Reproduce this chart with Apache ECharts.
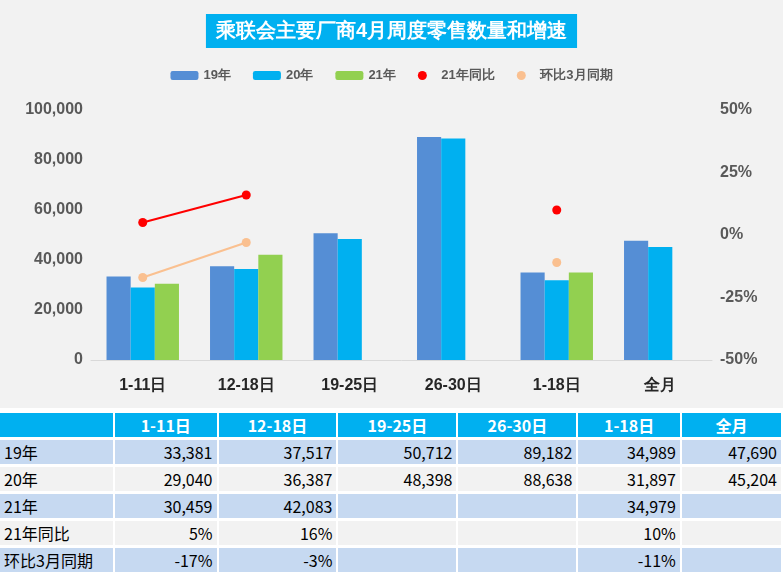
<!DOCTYPE html>
<html>
<head>
<meta charset="utf-8">
<script src="https://cdn.jsdelivr.net/npm/echarts@6/dist/echarts.min.js"></script>
<style>
body{margin:0;background:#fff;font-family:"Noto Sans CJK SC",sans-serif;}
#main{width:783px;height:408px;background:#f2f2f2;}
table{position:absolute;left:0;top:410px;border-collapse:separate;border-spacing:2px 3px;width:785px;margin-left:-2px;font-size:16px;}
td{height:23px;padding:0 4px;background:#f2f2f2;color:#000;text-align:right;}
td:first-child{text-align:left;width:105px;}
tr.b td{background:#c6d9f1;}
tr.h td{background:#00b0f0;color:#fff;font-weight:bold;text-align:center;}
</style>
</head>
<body>
<div id="main"></div>
<table id="tbl"></table>
<script>
var cats = ['1-11日','12-18日','19-25日','26-30日','1-18日','全月'];
var y19 = [33381, 37517, 50712, 89182, 34989, 47690];
var y20 = [29040, 36387, 48398, 88638, 31897, 45204];
var y21 = [30459, 42083, null, null, 34979, null];
var yoy21 = [5, 16, null, null, 10, null];
var mom3 = [-17, -3, null, null, -11, null];

var chart = echarts.init(document.getElementById('main'));
var axisLbl = {color:'#595959', fontSize:16, fontWeight:'bold'};
chart.setOption({
  animation:false,
  title:{text:'乘联会主要厂商4月周度零售数量和增速',left:'center',top:14,
    backgroundColor:'#00b0f0',padding:[7,10],
    textStyle:{color:'#fff',fontSize:20,fontWeight:'bold'}},
  legend:{top:64,left:'center',itemGap:22,itemWidth:28,itemHeight:9,
    textStyle:{color:'#595959',fontSize:13,fontWeight:'bold'},
    data:['19年','20年','21年',{name:'21年同比',icon:'circle'},{name:'环比3月同期',icon:'circle'}]},
  grid:{left:91,right:71,top:110,bottom:48},
  xAxis:{type:'category',data:cats,axisTick:{show:false},
    axisLine:{lineStyle:{color:'#d9d9d9'}},
    axisLabel:{color:'#262626',fontSize:16,fontWeight:'bold',margin:18}},
  yAxis:[
    {type:'value',min:0,max:100000,interval:20000,splitLine:{show:false},
     axisLabel:Object.assign({formatter:function(v){return v.toLocaleString('en-US');}},axisLbl)},
    {type:'value',min:-50,max:50,interval:25,splitLine:{show:false},
     axisLabel:Object.assign({formatter:'{value}%'},axisLbl)}
  ],
  series:[
    {name:'19年',type:'bar',data:y19,barGap:0,barCategoryGap:'30%',itemStyle:{color:'#558ed5'}},
    {name:'20年',type:'bar',data:y20,itemStyle:{color:'#00b0f0'}},
    {name:'21年',type:'bar',data:y21,itemStyle:{color:'#92d050'}},
    {name:'21年同比',type:'line',yAxisIndex:1,data:yoy21,symbol:'circle',symbolSize:9,
     itemStyle:{color:'#ff0000'},lineStyle:{color:'#ff0000',width:2}},
    {name:'环比3月同期',type:'line',yAxisIndex:1,data:mom3,symbol:'circle',symbolSize:9,
     itemStyle:{color:'#fac090'},lineStyle:{color:'#fac090',width:2}}
  ]
});

function fmt(v){return v==null?'':v.toLocaleString('en-US');}
function pct(v){return v==null?'':v+'%';}
var rows = [
  ['19年',y19.map(fmt)],
  ['20年',y20.map(fmt)],
  ['21年',y21.map(fmt)],
  ['21年同比',yoy21.map(pct)],
  ['环比3月同期',mom3.map(pct)]
];
var html = '<tr class="h"><td></td>'+cats.map(function(c){return '<td>'+c+'</td>';}).join('')+'</tr>';
rows.forEach(function(r,i){
  html += '<tr class="'+(i%2==0?'b':'')+'"><td>'+r[0]+'</td>'+r[1].map(function(v){return '<td>'+v+'</td>';}).join('')+'</tr>';
});
document.getElementById('tbl').innerHTML = html;
</script>
</body>
</html>
